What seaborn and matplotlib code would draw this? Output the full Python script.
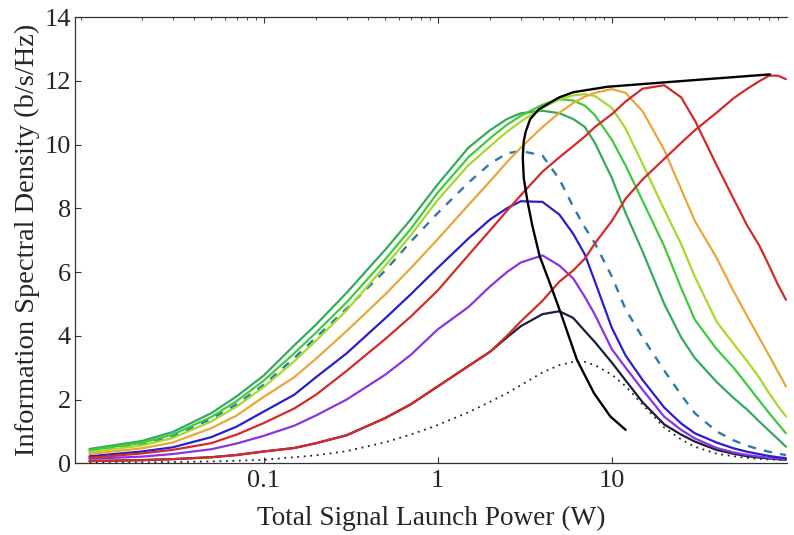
import matplotlib
matplotlib.use("Agg")
import matplotlib.pyplot as plt
import seaborn as sns

# launch power grid (W), shared by all curves
power = [0.01, 0.02, 0.03, 0.05, 0.07, 0.1, 0.15, 0.2, 0.3, 0.5, 0.7, 1, 1.5, 2, 2.5, 3, 4, 5,
         6, 7, 8, 10, 12, 15, 20, 25, 30, 40, 50, 60, 70, 80, 90, 100]

# spectral density (b/s/Hz)
se_dkgreen = [0.45, 0.70, 0.98, 1.57, 2.10, 2.75, 3.70, 4.35, 5.35, 6.70, 7.65, 8.75, 9.90, 10.45, 10.80,
              10.98, 11.06, 10.98, 10.80, 10.55, 10.05, 8.95, 7.85, 6.65, 5.00, 3.95, 3.30, 2.55, 2.05,
              1.68, 1.32, 1.02, 0.76, 0.52]
se_green = [0.41, 0.64, 0.90, 1.45, 1.95, 2.59, 3.45, 4.10, 5.05, 6.40, 7.35, 8.49, 9.60, 10.20, 10.62,
            10.90, 11.25, 11.42, 11.38, 11.22, 10.92, 10.15, 9.34, 8.24, 6.81, 5.50, 4.50, 3.58, 3.00,
            2.45, 1.98, 1.58, 1.24, 0.94]
se_yellowgreen = [0.35, 0.56, 0.79, 1.31, 1.78, 2.39, 3.20, 3.85, 4.80, 6.20, 7.15, 8.26, 9.35, 9.95,
                  10.40, 10.72, 11.15, 11.42, 11.54, 11.58, 11.52, 11.15, 10.50, 9.40, 7.96, 6.88, 5.85,
                  4.44, 3.75, 3.20, 2.70, 2.20, 1.80, 1.47]
se_orange = [0.29, 0.47, 0.65, 1.10, 1.50, 2.08, 2.70, 3.28, 4.15, 5.30, 6.12, 7.03, 8.10, 8.85, 9.45,
             9.90, 10.55, 11.00, 11.30, 11.50, 11.62, 11.74, 11.62, 11.05, 9.83, 8.60, 7.60, 6.44, 5.40,
             4.61, 3.95, 3.38, 2.87, 2.41]
se_red1 = [0.17, 0.31, 0.42, 0.63, 0.90, 1.26, 1.72, 2.15, 2.90, 3.90, 4.60, 5.42, 6.53, 7.31, 7.92,
           8.41, 9.15, 9.60, 9.95, 10.25, 10.55, 10.95, 11.35, 11.75, 11.86, 11.48, 10.75, 9.35, 8.30,
           7.45, 6.85, 6.20, 5.60, 5.13]
se_red2 = [0.07, 0.10, 0.13, 0.19, 0.26, 0.37, 0.48, 0.63, 0.88, 1.42, 1.85, 2.41, 3.05, 3.50, 4.00,
           4.45, 5.10, 5.70, 6.05, 6.42, 6.90, 7.60, 8.30, 8.90, 9.55, 10.05, 10.45, 11.00, 11.45,
           11.75, 11.98, 12.16, 12.16, 12.05]
se_blue = [0.22, 0.37, 0.50, 0.82, 1.15, 1.62, 2.15, 2.70, 3.45, 4.55, 5.30, 6.13, 7.05, 7.65, 8.00,
           8.22, 8.20, 7.80, 7.20, 6.55, 5.70, 4.25, 3.38, 2.62, 1.75, 1.25, 0.94, 0.65, 0.47, 0.36,
           0.29, 0.23, 0.19, 0.16]
se_dashed = [0.38, 0.60, 0.84, 1.39, 1.85, 2.46, 3.30, 3.95, 4.85, 6.05, 6.95, 7.85, 8.80, 9.40, 9.72,
             9.80, 9.65, 8.91, 8.05, 7.40, 6.90, 5.86, 4.83, 3.95, 2.91, 2.15, 1.57, 1.00, 0.72, 0.55,
             0.44, 0.36, 0.30, 0.26]
se_purple = [0.14, 0.21, 0.29, 0.44, 0.62, 0.86, 1.18, 1.50, 2.00, 2.78, 3.40, 4.20, 4.90, 5.55, 6.00,
             6.30, 6.52, 6.20, 5.80, 5.22, 4.66, 3.58, 3.00, 2.31, 1.46, 1.05, 0.78, 0.48, 0.34, 0.26,
             0.21, 0.17, 0.15, 0.13]
se_black = [0.07, 0.10, 0.13, 0.19, 0.26, 0.37, 0.48, 0.63, 0.88, 1.42, 1.85, 2.41, 3.05, 3.50, 3.95,
            4.30, 4.68, 4.77, 4.56, 4.15, 3.80, 3.16, 2.60, 1.92, 1.22, 0.90, 0.68, 0.42, 0.30, 0.22,
            0.18, 0.15, 0.13, 0.11]
se_dotted = [0.02, 0.03, 0.04, 0.06, 0.08, 0.11, 0.19, 0.25, 0.38, 0.66, 0.90, 1.20, 1.60, 1.93, 2.20,
             2.45, 2.85, 3.08, 3.18, 3.18, 3.08, 2.78, 2.42, 1.85, 1.12, 0.75, 0.52, 0.30, 0.22, 0.17,
             0.14, 0.12, 0.11, 0.10]

# locus of the optimum points (traced from bottom to top-right)
locus_power = [12.0, 9.8, 7.9, 6.3, 5.1, 4.4, 3.85, 3.5, 3.27, 3.12, 3.08, 3.12, 3.2, 3.4, 3.8, 4.6,
               5.0, 6.0, 9.4, 18, 35, 81]
locus_se = [1.05, 1.47, 2.2, 3.25, 4.7, 5.66, 6.5, 7.44, 8.25, 8.95, 9.6, 10.1, 10.4, 10.8, 11.1, 11.37,
            11.48, 11.64, 11.81, 11.93, 12.05, 12.2]

sns.set_style("ticks")
plt.rcParams['font.family'] = ['Liberation Serif', 'DejaVu Serif']

fig = plt.figure(figsize=(7.94, 5.35), dpi=100)
ax = fig.add_axes([75 / 794, 1 - 463.3 / 535, (786.7 - 75) / 794, (463.3 - 17) / 535])
ax.set_xscale('log')

series = [
    (se_dotted, '#222222', (0, (1, 2.6)), 1.3),
    (se_black, '#1c1c3c', '-', 1.6),
    (se_purple, '#8a34e0', '-', 1.6),
    (se_blue, '#2a1ecc', '-', 1.6),
    (se_dashed, '#2f78aa', (0, (3.5, 3.5)), 1.7),
    (se_dkgreen, '#34aa5c', '-', 1.6),
    (se_green, '#3ccc3c', '-', 1.6),
    (se_yellowgreen, '#a8d82c', '-', 1.6),
    (se_orange, '#eaa63a', '-', 1.6),
    (se_red1, '#d42a2a', '-', 1.6),
    (se_red2, '#d42a2a', '-', 1.6),
]
for vals, color, ls, lw in series:
    sns.lineplot(x=power, y=vals, color=color, linestyle=ls, linewidth=lw, ax=ax, legend=False)

sns.lineplot(x=locus_power, y=locus_se, sort=False, estimator=None, color='black',
             linewidth=1.7, ax=ax, legend=False)

ax.set_xlim(0.00826, 101)
ax.set_ylim(0, 14)
ax.set_xticks([0.1, 1, 10], labels=['0.1', '1', '10'])
ax.set_yticks(range(0, 15, 2))
ax.tick_params(which='both', direction='in', top=True, right=False, labelsize=19, color='#333333')
ax.tick_params(which='major', length=4.5, width=0.8, pad=5)
ax.tick_params(which='minor', bottom=False, length=2.5, width=0.6)
ax.tick_params(axis='y', pad=3)
ax.spines['right'].set_visible(False)
for side in ['left', 'bottom', 'top']:
    ax.spines[side].set_linewidth(0.9)
    ax.spines[side].set_color('#333333')

ax.set_xlabel('Total Signal Launch Power (W)', fontsize=19.6, labelpad=10)
ax.set_ylabel('Information Spectral Density (b/s/Hz)', fontsize=20.5, labelpad=3)

fig.savefig('out.png', dpi=100)
